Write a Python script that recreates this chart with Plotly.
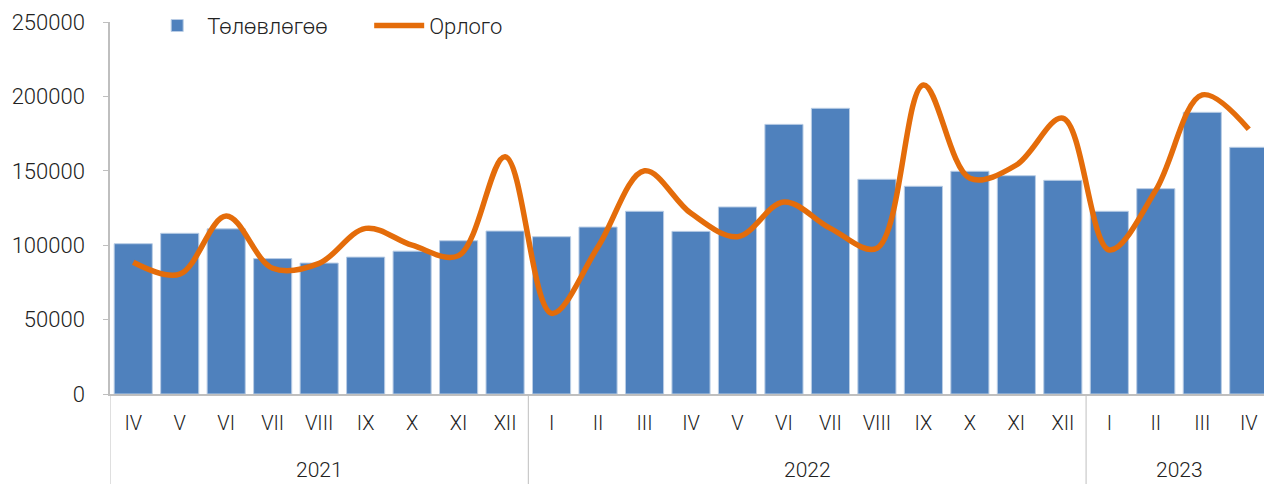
import plotly.graph_objects as go

years = ["2021"] * 9 + ["2022"] * 12 + ["2023"] * 4
months = ["IV", "V", "VI", "VII", "VIII", "IX", "X", "XI", "XII",
          "I", "II", "III", "IV", "V", "VI", "VII", "VIII", "IX", "X", "XI", "XII",
          "I", "II", "III", "IV"]
plan = [101000, 108000, 111000, 91000, 88000, 92000, 96000, 103000, 109500,
        105700, 112200, 122800, 109300, 125700, 181200, 192000, 144300, 139600,
        149700, 146700, 143600,
        122800, 138000, 189300, 165800]
revenue = [88500, 80500, 119600, 84500, 87800, 111300, 100000, 93000, 159500,
           54200, 99000, 150000, 121400, 105700, 129000, 111300, 98000, 207700,
           145000, 153900, 185300,
           96800, 137000, 201000, 177900]
y_ticks = [0, 50000, 100000, 150000, 200000, 250000]

font = "Roboto"
wt = 300
txt = "#222222"
axis_col = "#BFBFBF"
idx = list(range(len(months)))

fig = go.Figure()
fig.add_trace(go.Bar(
    x=idx, y=plan, name="Төлөвлөгөө",
    marker=dict(color="#4F81BD", line=dict(color="#B9CDE5", width=1)),
))
fig.add_trace(go.Scatter(
    x=idx, y=revenue, name="Орлого", mode="lines",
    line=dict(color="#E46C0A", width=5.5, shape="spline", smoothing=1.0),
))

# year groups: labels and dividers derived from the data
groups = []
for i, yv in enumerate(years):
    if not groups or groups[-1][0] != yv:
        groups.append([yv, i, i])
    else:
        groups[-1][2] = i
bounds = [groups[0][1] - 0.5] + [g[2] + 0.5 for g in groups]
for b in bounds:
    fig.add_shape(type="line", xref="x", yref="paper", x0=b, x1=b, y0=0, y1=-0.26,
                  line=dict(color=axis_col, width=1))
for yv, a, b in groups:
    fig.add_annotation(x=(a + b) / 2, xref="x", y=-0.204, yref="paper", text=yv,
                       showarrow=False, yanchor="middle",
                       font=dict(family=font, size=21, color=txt, weight=wt))

# the page body adds an 8px offset, so the figure is sized to fit the window
fig.update_layout(
    width=1264, height=476,
    margin=dict(l=102, r=0, t=14, b=90, autoexpand=False),
    paper_bgcolor="white", plot_bgcolor="white",
    bargap=0.18,
    font=dict(family=font, size=22, color=txt, weight=wt),
    legend=dict(orientation="h", x=0.032, y=0.99, xanchor="left", yanchor="middle",
                font=dict(family=font, size=22, color=txt, weight=wt),
                bgcolor="rgba(0,0,0,0)", itemwidth=50, entrywidth=157),
    showlegend=True,
)
fig.update_yaxes(
    range=[0, 250000], tickvals=y_ticks, ticktext=[str(v) for v in y_ticks],
    showgrid=False, showline=True, linecolor=axis_col, linewidth=1.5,
    ticks="outside", ticklen=5, tickcolor=axis_col, zeroline=False,
    ticklabelstandoff=14, automargin=False,
    tickfont=dict(family=font, size=22, color=txt, weight=wt),
)
fig.update_xaxes(
    range=[-0.5, len(months) - 0.5], tickvals=idx, ticktext=months,
    showgrid=False, showline=True, linecolor=axis_col, linewidth=1.5,
    ticks="", zeroline=False, ticklabelstandoff=10, automargin=False,
    tickfont=dict(family=font, size=20, color=txt, weight=wt),
)
fig.write_html("out.html")
